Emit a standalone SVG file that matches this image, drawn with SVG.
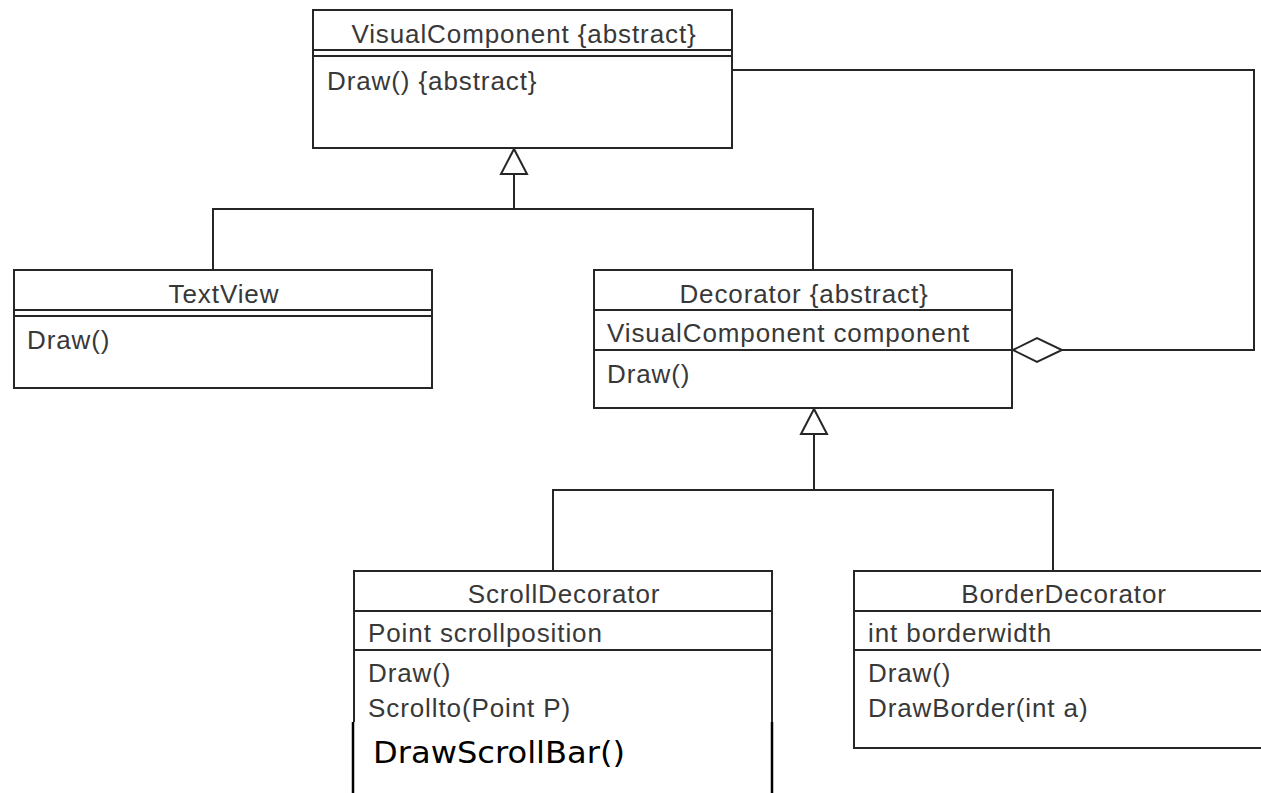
<svg xmlns="http://www.w3.org/2000/svg" width="1261" height="793" viewBox="0 0 1261 793">
  <style>
    .box { fill: #ffffff; stroke: #262626; stroke-width: 2; }
    .sep { stroke: #262626; stroke-width: 2; fill: none; }
    .wire { stroke: #262626; stroke-width: 2; fill: none; }
    .head { fill: #ffffff; stroke: #262626; stroke-width: 2; }
    text { font-family: "Liberation Sans", Arial, sans-serif; font-size: 26px; letter-spacing: 0.9px; fill: #383838; }
    .title { text-anchor: middle; }
    .added { font-family: "DejaVu Sans", Verdana, sans-serif; font-size: 31px; letter-spacing: 0; fill: #000000; }
  </style>
  <rect width="1261" height="793" fill="#ffffff"/>

  <!-- connectors -->
  <g id="connectors">
    <!-- generalization: TextView / Decorator -> VisualComponent -->
    <polyline class="wire" points="213,270 213,209 813,209 813,270"/>
    <line class="wire" x1="514" y1="209" x2="514" y2="174"/>
    <polygon class="head" points="514,149 501,174 527,174"/>
    <!-- generalization: ScrollDecorator / BorderDecorator -> Decorator -->
    <polyline class="wire" points="553,571 553,490 1053,490 1053,571"/>
    <line class="wire" x1="814" y1="490" x2="814" y2="434"/>
    <polygon class="head" points="814,409 801,434 827,434"/>
    <!-- aggregation: Decorator holds a VisualComponent -->
    <polyline class="wire" points="732,70 1254,70 1254,350 1062,350"/>
    <polygon class="head" points="1013,350 1037,338 1062,350 1037,362"/>
  </g>

  <g id="VisualComponent">
    <rect class="box" x="313" y="10" width="419" height="138"/>
    <line class="sep" x1="313" y1="50" x2="732" y2="50"/>
    <line class="sep" x1="313" y1="56" x2="732" y2="56"/>
    <text class="title" x="524" y="43">VisualComponent {abstract}</text>
    <text x="327" y="90">Draw() {abstract}</text>
  </g>

  <g id="TextView">
    <rect class="box" x="14" y="270" width="418" height="118"/>
    <line class="sep" x1="14" y1="310" x2="432" y2="310"/>
    <line class="sep" x1="14" y1="316" x2="432" y2="316"/>
    <text class="title" x="224" y="303">TextView</text>
    <text x="27" y="349">Draw()</text>
  </g>

  <g id="Decorator">
    <rect class="box" x="594" y="270" width="418" height="138"/>
    <line class="sep" x1="594" y1="310" x2="1012" y2="310"/>
    <line class="sep" x1="594" y1="350" x2="1012" y2="350"/>
    <text class="title" x="804" y="303">Decorator {abstract}</text>
    <text x="607" y="342">VisualComponent component</text>
    <text x="607" y="383">Draw()</text>
  </g>

  <g id="ScrollDecorator">
    <rect class="box" x="354" y="571" width="418" height="240"/>
    <line class="sep" x1="354" y1="611" x2="772" y2="611"/>
    <line class="sep" x1="354" y1="650" x2="772" y2="650"/>
    <text class="title" x="564" y="603">ScrollDecorator</text>
    <text x="368" y="642">Point scrollposition</text>
    <text x="368" y="682">Draw()</text>
    <text x="368" y="717">Scrollto(Point P)</text>
    <!-- extended operations panel -->
    <rect x="354" y="722" width="418" height="80" fill="#ffffff"/>
    <line x1="353" y1="722" x2="353" y2="793" stroke="#000000" stroke-width="2.5"/>
    <line x1="772" y1="722" x2="772" y2="793" stroke="#000000" stroke-width="2.5"/>
    <text class="added" x="373" y="763" textLength="252" lengthAdjust="spacingAndGlyphs">DrawScrollBar()</text>
  </g>

  <g id="BorderDecorator">
    <rect class="box" x="854" y="571" width="418" height="177"/>
    <line class="sep" x1="854" y1="611" x2="1272" y2="611"/>
    <line class="sep" x1="854" y1="650" x2="1272" y2="650"/>
    <text class="title" x="1064" y="603">BorderDecorator</text>
    <text x="868" y="642">int borderwidth</text>
    <text x="868" y="682">Draw()</text>
    <text x="868" y="717">DrawBorder(int a)</text>
  </g>
</svg>
